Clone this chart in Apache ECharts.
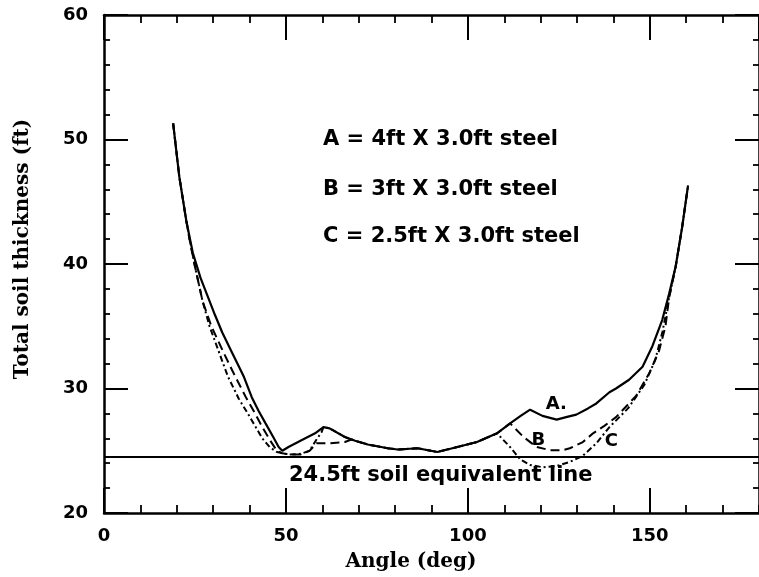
<!DOCTYPE html>
<html><head><meta charset="utf-8">
<script src="https://cdn.jsdelivr.net/npm/echarts@6/dist/echarts.min.js"></script>
<style>html,body{margin:0;padding:0;background:#fff}#c{width:759px;height:577px}</style>
</head><body><div id="c"></div>
<script>
// Curve A: 4ft x 3.0ft steel (solid)
const curveA = [[19,51.3],[20.7,47.0],[22.6,43.5],[24.4,40.9],[26.5,38.9],[28.9,37.1],[30.5,35.9],[32.5,34.5],[35,33.0],[37.1,31.75],[38.5,30.9],[40.6,29.3],[42.5,28.2],[44.4,27.2],[46.5,26.1],[48,25.3],[49,25.0],[50.7,25.3],[54,25.8],[58,26.4],[60.3,26.9],[62,26.8],[66.2,26.1],[69,25.8],[72.5,25.5],[78,25.2],[80.7,25.1],[86.2,25.2],[91.6,24.9],[97.1,25.3],[102.5,25.7],[108,26.4],[111.6,27.2],[114.5,27.8],[117.1,28.3],[120.5,27.8],[124.4,27.5],[127,27.7],[129.8,27.9],[133,28.4],[135.3,28.8],[138.9,29.7],[140.7,30.0],[144.3,30.7],[148,31.75],[150.7,33.4],[153.4,35.5],[155.3,37.6],[157.1,39.8],[158.9,43.0],[160.5,46.3]];
// Curve B: 3ft x 3.0ft steel (dashed)
const curveB = [[19,51.3],[20.7,47.0],[22.6,43.5],[23.5,42.0],[25,39.8],[27.1,37.0],[29.5,35.0],[33,32.8],[36,31.0],[39,29.3],[41.5,28.0],[43.5,26.9],[45.5,25.9],[47.5,25.0],[49,24.8],[51,24.7],[54,24.7],[56.5,25.0],[58.4,25.6],[62,25.6],[66.2,25.7],[68,25.9],[72.5,25.5],[78,25.2],[80.7,25.1],[86.2,25.2],[91.6,24.9],[97.1,25.3],[102.5,25.7],[108,26.4],[111.6,27.2],[115.3,26.1],[118.9,25.3],[122.5,25.05],[126.2,25.05],[128,25.2],[131.6,25.7],[134.4,26.4],[137.5,27.0],[140.7,27.7],[146.2,29.4],[149.8,31.2],[152.5,33.0],[154.3,35.0],[155.3,37.3],[157.1,39.8],[158.9,43.0],[160.5,46.3]];
// Curve C: 2.5ft x 3.0ft steel (dash-dot)
const curveC = [[19,51.3],[20.7,47.0],[22.6,43.5],[23.5,42.0],[25,39.8],[27.1,37.0],[29,35.0],[31.5,33.0],[34,31.0],[37,29.2],[39.5,28.0],[41.5,27.0],[43.5,26.0],[45.5,25.3],[47.5,24.9],[49,24.8],[51,24.7],[54,24.75],[56.5,25.0],[58.4,25.9],[59.8,26.5],[60.3,26.9],[62,26.8],[66.2,26.1],[69,25.8],[72.5,25.5],[78,25.2],[80.7,25.1],[86.2,25.2],[91.6,24.9],[97.1,25.3],[102.5,25.7],[108,26.4],[111.6,25.3],[114.4,24.3],[117.1,23.85],[120.7,23.67],[124.4,23.78],[128,24.1],[131.6,24.6],[135.3,25.6],[138.9,26.9],[144,28.4],[148.5,30.3],[151.5,32.3],[153.5,34.6],[155.3,37.3],[157.1,39.8],[158.9,43.0],[160.5,46.3]];
const soilEquivalent = 24.5;
const legendLines = ['A = 4ft X 3.0ft steel', 'B = 3ft X 3.0ft steel', 'C = 2.5ft X 3.0ft steel'];
const refLabel = '24.5ft soil equivalent line';
const xRange = [0, 180];
const yRange = [20, 60];

const tickFont = {color:'#000', fontSize:18, fontWeight:'bold', fontFamily:'DejaVu Sans'};
const nameFont = {color:'#000', fontSize:20, fontWeight:'bold', fontFamily:'DejaVu Serif'};
const markFont = {color:'#000', fontSize:18, fontWeight:'bold', fontFamily:'DejaVu Sans'};
const black = '#000';

function xAx(pos, interval, len, w, labels, line, extra) {
  return Object.assign({
    type:'value', position:pos, min:xRange[0], max:xRange[1], interval:interval,
    axisLine:{show:line, onZero:false, lineStyle:{color:black, width:2.5}},
    axisTick:{show:true, inside:true, length:len, lineStyle:{color:black, width:w}},
    axisLabel:Object.assign({show:labels, margin:14, showMaxLabel:false}, tickFont),
    splitLine:{show:false}
  }, extra||{});
}
function yAx(pos, interval, len, w, labels, line, extra) {
  return Object.assign({
    type:'value', position:pos, min:yRange[0], max:yRange[1], interval:interval,
    axisLine:{show:line, onZero:false, lineStyle:{color:black, width:2.5}},
    axisTick:{show:true, inside:true, length:len, lineStyle:{color:black, width:w}},
    axisLabel:Object.assign({show:labels, margin:16}, tickFont),
    splitLine:{show:false}
  }, extra||{});
}

const chart = echarts.init(document.getElementById('c'), null, {renderer:'canvas'});
chart.setOption({
  backgroundColor:'#fff',
  animation:false,
  grid:{left:104, top:15, right:-5, bottom:64, containLabel:false},
  xAxis:[
    xAx('bottom', 50, 25, 2, true, true, {name:'Angle (deg)', nameLocation:'middle', nameGap:39, nameTextStyle:Object.assign({padding:[0,41,0,0]}, nameFont)}),
    xAx('bottom', 10, 8, 1.8, false, false),
    xAx('top', 50, 25, 2, false, true),
    xAx('top', 10, 8, 1.8, false, false)
  ],
  yAxis:[
    yAx('left', 10, 24, 2, true, true, {name:'Total soil thickness (ft)', nameLocation:'middle', nameGap:71, nameTextStyle:Object.assign({padding:[0,0,0,30]}, nameFont)}),
    yAx('left', 2, 6, 1.8, false, false),
    yAx('right', 10, 24, 2, false, true),
    yAx('right', 2, 6, 1.8, false, false)
  ],
  graphic:[
    {type:'text', left:323, top:129, style:{text:legendLines[0], fill:black, font:'bold 21px "DejaVu Sans"'}},
    {type:'text', left:323, top:179, style:{text:legendLines[1], fill:black, font:'bold 21px "DejaVu Sans"'}},
    {type:'text', left:323, top:226, style:{text:legendLines[2], fill:black, font:'bold 21px "DejaVu Sans"'}},
    {type:'text', left:289, top:465, style:{text:refLabel, fill:black, font:'bold 21px "DejaVu Sans"'}}
  ],
  series:[
    {type:'line', name:'C', data:curveC, showSymbol:false, smooth:false, clip:true,
     lineStyle:{color:black, width:2, type:[6,3,2,3]},
     markPoint:{symbol:'circle', symbolSize:0, data:[{coord:[139.4,25.73]}],
       label:Object.assign({show:true, position:'inside', formatter:'C'}, markFont)}},
    {type:'line', name:'B', data:curveB, showSymbol:false, smooth:false, clip:true,
     lineStyle:{color:black, width:2, type:[9,5]},
     markPoint:{symbol:'circle', symbolSize:0, data:[{coord:[119.4,25.86]}],
       label:Object.assign({show:true, position:'inside', formatter:'B'}, markFont)}},
    {type:'line', name:'A', data:curveA, showSymbol:false, smooth:false, clip:true,
     lineStyle:{color:black, width:2.2, type:'solid'},
     markPoint:{symbol:'circle', symbolSize:0, data:[{coord:[124.3,28.75]}],
       label:Object.assign({show:true, position:'inside', formatter:'A.'}, markFont)},
     markLine:{silent:true, symbol:['none','none'], label:{show:false},
       lineStyle:{color:black, width:2.2, type:'solid'}, data:[{yAxis:soilEquivalent}]}}
  ]
});
</script>
</body></html>
